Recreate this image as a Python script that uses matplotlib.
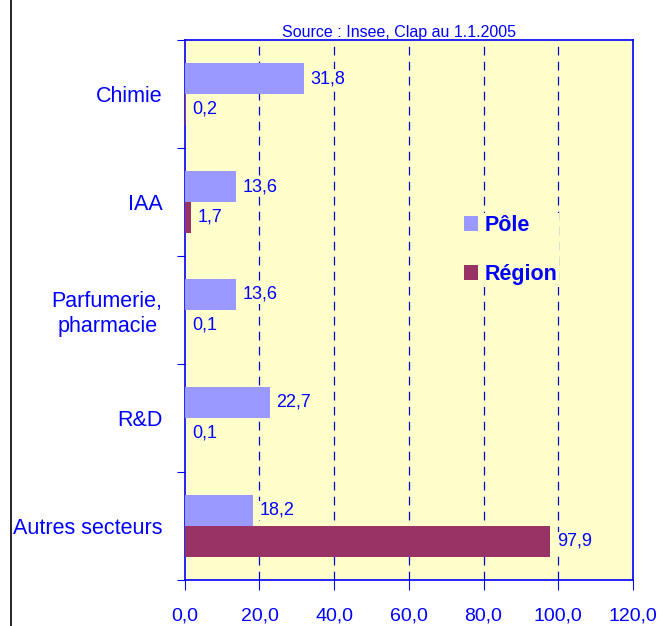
import numpy as np
import matplotlib
matplotlib.use("Agg")
import matplotlib.pyplot as plt
from matplotlib.lines import Line2D
from matplotlib.patches import Patch

categories = ["Chimie", "IAA", "Parfumerie,\npharmacie", "R&D", "Autres secteurs"]
pole = [31.8, 13.6, 13.6, 22.7, 18.2]
region = [0.2, 1.7, 0.1, 0.1, 97.9]
xticks = [0, 20, 40, 60, 80, 100, 120]

blue = "#0000FF"
c_pole = "#9999FF"
c_region = "#993366"
bg = "#FFFFCC"

plt.rcParams['font.family'] = ['Liberation Sans', 'DejaVu Sans']

fig = plt.figure(figsize=(6.6, 6.26), dpi=100)
ax = fig.add_axes([0.280, 0.0735, 0.679, 0.8626])
ax.set_facecolor(bg)

y = np.arange(len(categories))
h = 0.287
ax.barh(y - h / 2, pole, height=h, color=c_pole, zorder=3)
ax.barh(y + h / 2, region, height=h, color=c_region, zorder=3)

def fmt(v):
    return f"{v:.1f}".replace(".", ",")

lbl_box = dict(facecolor=bg, edgecolor="none", pad=1)
for i in range(len(categories)):
    ax.annotate(fmt(pole[i]), (pole[i], y[i] - h / 2), xytext=(5, 0),
                textcoords="offset points", color=blue, fontsize=13,
                va="center", ha="left", zorder=4, bbox=lbl_box)
    ax.annotate(fmt(region[i]), (region[i], y[i] + h / 2), xytext=(5, 0),
                textcoords="offset points", color=blue, fontsize=13,
                va="center", ha="left", zorder=4, bbox=lbl_box)

ax.set_xlim(0, 120)
ax.set_ylim(len(categories) - 0.5, -0.5)

ax.set_xticks(xticks)
ax.set_xticklabels([fmt(v) for v in xticks], fontsize=14, color=blue)
ax.tick_params(axis="x", direction="out", length=7, color=blue, pad=13)

ax.set_yticks(np.arange(-0.5, len(categories), 1.0))
ax.set_yticklabels([])
ax.tick_params(axis="y", which="major", direction="out", length=6, color=blue)
ax.set_yticks(y, minor=True)
ax.set_yticklabels(categories, minor=True, fontsize=15.5, color=blue,
                   multialignment="center")
ax.tick_params(axis="y", which="minor", length=0, pad=16)
for t in ax.get_yticklabels(minor=True):
    t.set_y(t.get_position()[1])

for v in xticks[1:-1]:
    ax.axvline(v, color="#0000CC", linestyle=(0, (7, 5)), linewidth=0.9, zorder=2)

for s in ax.spines.values():
    s.set_color(blue)
    s.set_linewidth(1.2)

ax.set_title("Source : Insee, Clap au 1.1.2005", fontsize=11.5, color=blue,
             pad=2, x=0.478)

handles = [Patch(facecolor=c_pole, label="Pôle"),
           Patch(facecolor=c_region, label="Région")]
leg = ax.legend(handles=handles, loc="upper left", bbox_to_anchor=(0.594, 0.70),
                frameon=True, facecolor=bg, edgecolor="none", framealpha=1,
                fancybox=False, borderpad=0.1, handlelength=0.65,
                handleheight=0.65, handletextpad=0.3, labelspacing=1.3,
                prop={"weight": "bold", "size": 15.5})
leg.set_zorder(5)
for t in leg.get_texts():
    t.set_color(blue)

fig.add_artist(Line2D([0.016, 0.016], [0, 1], color="black", linewidth=1.2,
                      transform=fig.transFigure))

fig.savefig("out.png", dpi=100)
